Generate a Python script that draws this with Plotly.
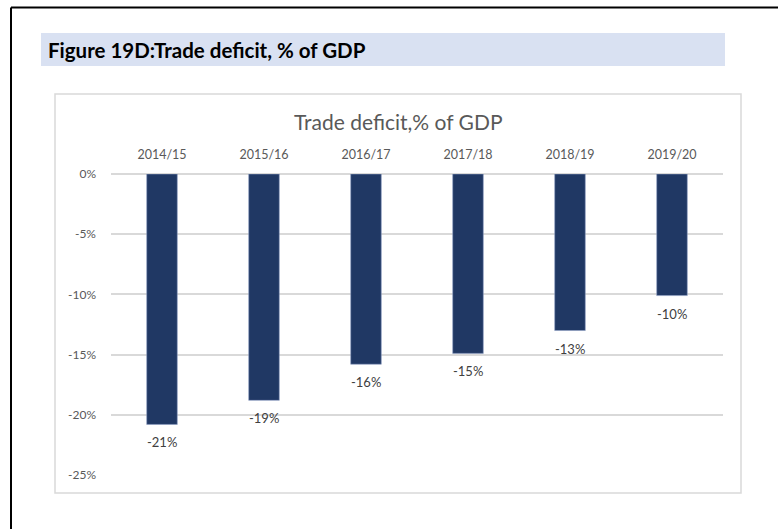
import plotly.graph_objects as go

# Trade deficit as share of GDP, by fiscal year
years = ["2014/15", "2015/16", "2016/17", "2017/18", "2018/19", "2019/20"]
deficit_pct = [-20.8, -18.8, -15.8, -14.9, -13.0, -10.1]
y_ticks = [0, -5, -10, -15, -20, -25]
y_tick_text = ["0%", "-5%", "-10%", "-15%", "-20%", "-25%"]

W, H = 778, 529
L, R, T, B = 111, 55, 174, 54
FONT = "Lato, 'Open Sans', sans-serif"
GREY = "#595959"


def px_x(px):
    return (px - L) / (W - L - R)


def px_y(py):
    return (H - B - py) / (H - T - B)


fig = go.Figure()
fig.add_trace(go.Bar(
    x=years,
    y=deficit_pct,
    width=0.3,
    marker=dict(color="#203864", line=dict(color="#8EA0C4", width=0.6)),
    hoverinfo="skip",
))

annotations = []
for yr, v in zip(years, deficit_pct):
    annotations.append(dict(
        x=yr, y=v, xref="x", yref="y", text=f"{round(v):.0f}%",
        showarrow=False, yanchor="middle", yshift=-18,
        font=dict(family=FONT, size=13, color="#404040"),
    ))

# Figure caption and inner chart title
annotations.append(dict(
    x=px_x(46), y=px_y(50), xref="paper", yref="paper",
    text="<b>Figure 19D:Trade deficit, % of GDP</b>", showarrow=False,
    xanchor="left", yanchor="middle",
    font=dict(family=FONT, size=20.5, color="#000000"),
))
annotations.append(dict(
    x=px_x(398.5), y=px_y(121), xref="paper", yref="paper",
    text="Trade deficit,% of GDP", showarrow=False,
    xanchor="center", yanchor="middle",
    font=dict(family=FONT, size=21, color=GREY),
))

shapes = [
    # caption banner
    dict(type="rect", xref="paper", yref="paper", layer="below",
         x0=px_x(41), x1=px_x(725), y0=px_y(66), y1=px_y(33),
         fillcolor="#D9E1F2", line=dict(width=0)),
    # chart frame
    dict(type="rect", xref="paper", yref="paper", layer="below",
         x0=px_x(55), x1=px_x(741), y0=px_y(493), y1=px_y(94),
         fillcolor="rgba(0,0,0,0)", line=dict(color="#D9D9D9", width=1.5)),
    # outer page border
    dict(type="line", xref="paper", yref="paper",
         x0=px_x(11), x1=px_x(790), y0=px_y(7.5), y1=px_y(7.5),
         line=dict(color="#000000", width=2)),
    dict(type="line", xref="paper", yref="paper",
         x0=px_x(11), x1=px_x(11), y0=px_y(7.5), y1=px_y(540),
         line=dict(color="#000000", width=2)),
]

fig.update_layout(
    width=W, height=H,
    margin=dict(l=L, r=R, t=T, b=B, pad=0),
    paper_bgcolor="white", plot_bgcolor="white",
    showlegend=False,
    annotations=annotations,
    shapes=shapes,
    bargap=0.7,
    xaxis=dict(
        side="top", showgrid=False, zeroline=False, showline=False,
        ticks="", ticklabelstandoff=12,
        tickfont=dict(family=FONT, size=12.5, color=GREY),
        fixedrange=True,
    ),
    yaxis=dict(
        range=[-25, 0], tickvals=y_ticks, ticktext=y_tick_text,
        showgrid=True, gridcolor="#D9D9D9", gridwidth=1.5,
        zeroline=True, zerolinecolor="#D9D9D9", zerolinewidth=1.5,
        showline=False, ticks="", ticklabelstandoff=14,
        tickfont=dict(family=FONT, size=12, color=GREY),
        fixedrange=True,
    ),
)

fig.write_html("out.html")
